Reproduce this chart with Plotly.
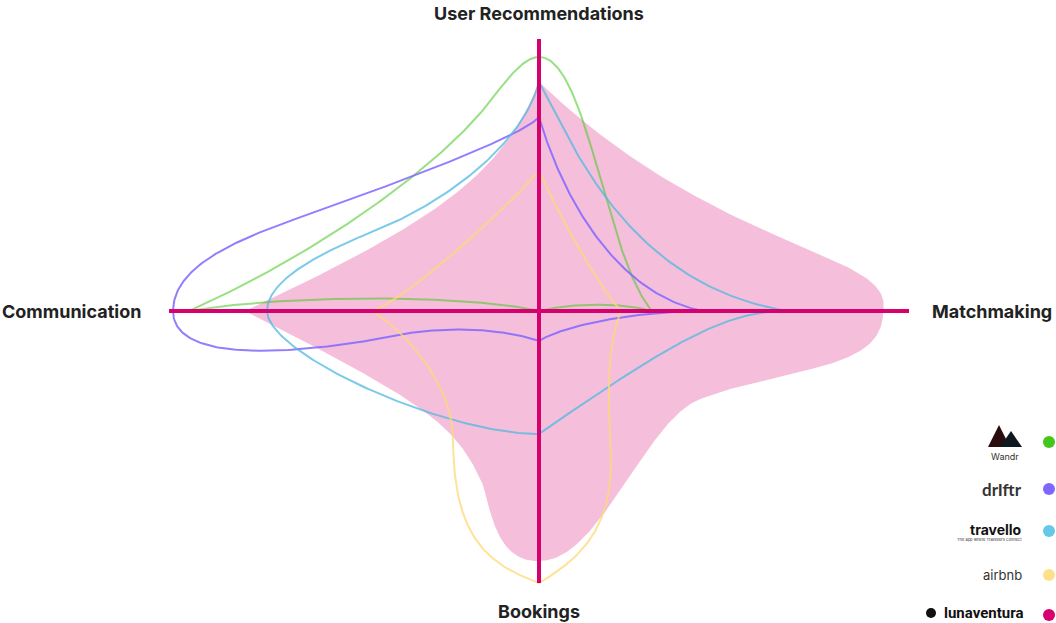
import numpy as np
import plotly.graph_objects as go

# ---------------- data ----------------
AXES = ["User Recommendations", "Matchmaking", "Bookings", "Communication"]
BRANDS = ["Wandr", "drIftr", "travello", "airbnb", "lunaventura"]
COLORS = ["#44c71c", "#7f66ff", "#64c8e8", "#ffe08a", "#d6006f"]

# scores on each axis (0-100): [User Recommendations, Matchmaking, Bookings, Communication]
wandr_scores = [93.4, 30.5, 0.0, 94.6]
driftr_scores = [71.3, 44.3, 11.0, 98.9]
travello_scores = [84.2, 67.0, 45.2, 73.5]
airbnb_scores = [51.5, 22.2, 100.0, 45.1]
luna_scores = [84.2, 93.0, 91.9, 79.5]

# curve handles between consecutive axes (score units):
# each item = [c1x, c1y, c2x, c2y] (+ [wx, wy] for an intermediate waypoint)
wandr_curve = [
    [[13.0, 93.4, 17.8, 20.6]],
    [[23.2, 2.9, 9.7, 3.3]],
    [[-18.6, 5.9, -67.3, 6.3]],
    [[-62.4, 19.5, -30.8, 48.9, -15.1, 73.9], [-10.8, 80.9, -5.1, 93.4]],
]
driftr_curve = [
    [[7.0, 39.0, 21.9, 5.9]],
    [[30.0, 0.0, 8.4, -4.0]],
    [[-10.3, -6.3, -24.1, -5.9, -34.9, -8.1], [-64.6, -16.2, -98.9, -19.9]],
    [[-98.9, 16.5, -81.6, 26.1, -66.5, 33.5], [-41.1, 45.6, -4.1, 64.3]],
]
travello_curve = [
    [[9.7, 59.2, 24.6, 9.6]],
    [[51.4, 0.0, 38.1, -9.2]],
    [[-25.7, -45.2, -73.5, -15.8]],
    [[-73.5, 13.2, -53.8, 24.3, -43.8, 29.8], [-24.1, 40.8, -4.1, 62.1]],
]
airbnb_curve = [
    [[4.3, 37.9, 16.5, 7.7]],
    [[18.1, -12.5, 18.6, -32.7, 19.5, -54.8], [19.5, -78.7, 12.4, -90.1]],
    [[-13.2, -93.4, -23.2, -84.2, -23.2, -47.4], [-23.2, -27.2, -35.9, -7.7]],
    [[-34.9, 4.8, -6.8, 40.4]],
]
luna_curve = [
    [[48.9, 20.6, 96.2, 22.4]],
    [[93.2, -22.4, 67.8, -19.9, 43.5, -32.4], [28.6, -40.1, 16.5, -92.3]],
    [[-9.2, -92.3, -12.4, -80.5, -14.6, -65.8], [-21.9, -41.9, -29.5, -34.6]],
    [[-25.7, 34.2, -9.7, 51.1]],
]

# ---------------- geometry helpers ----------------
PX_X, PX_Y = 3.7, 2.72          # pixels per score unit
CX, CY = 539, 311               # centre of chart in pixels
W, H = 1056, 623


def bez(p0, c1, c2, p3, n=90):
    t = np.linspace(0, 1, n)[:, None]
    return (1 - t) ** 3 * p0 + 3 * (1 - t) ** 2 * t * c1 + 3 * (1 - t) * t ** 2 * c2 + t ** 3 * p3


def build(scores, curve):
    anchors = [np.array([0.0, scores[0]]), np.array([scores[1], 0.0]),
               np.array([0.0, -scores[2]]), np.array([-scores[3], 0.0])]
    xs, ys = [], []
    for q in range(4):
        p = anchors[q]
        end = anchors[(q + 1) % 4]
        for seg in curve[q]:
            c1 = np.array(seg[0:2], float)
            c2 = np.array(seg[2:4], float)
            nxt = np.array(seg[4:6], float) if len(seg) == 6 else end
            pts = bez(p, c1, c2, nxt)
            xs.extend(pts[:, 0])
            ys.extend(pts[:, 1])
            p = nxt
    return xs, ys


def rgba(hexc, a):
    h = hexc.lstrip("#")
    r, g, b = int(h[0:2], 16), int(h[2:4], 16), int(h[4:6], 16)
    return f"rgba({r},{g},{b},{a})"


fig = go.Figure()

# lunaventura filled area
lx, ly = build(luna_scores, luna_curve)
fig.add_trace(go.Scatter(x=lx, y=ly, mode="lines", fill="toself",
                         fillcolor=rgba(COLORS[4], 0.25), line=dict(width=0),
                         hoverinfo="skip", name=BRANDS[4]))

series = [
    (BRANDS[0], wandr_scores, wandr_curve, rgba(COLORS[0], 0.55)),
    (BRANDS[1], driftr_scores, driftr_curve, rgba(COLORS[1], 0.85)),
    (BRANDS[2], travello_scores, travello_curve, rgba("#4fb8e0", 0.75)),
    (BRANDS[3], airbnb_scores, airbnb_curve, rgba("#ffd874", 0.75)),
]
for name, sc, cv, col in series:
    x, y = build(sc, cv)
    fig.add_trace(go.Scatter(x=x, y=y, mode="lines", line=dict(color=col, width=2),
                             hoverinfo="skip", name=name))

# axes (drawn on top)
AXIS_LEN = 100
shapes = [
    dict(type="line", xref="x", yref="y", x0=-AXIS_LEN, x1=AXIS_LEN, y0=0, y1=0,
         line=dict(color=COLORS[4], width=4), layer="above"),
    dict(type="line", xref="x", yref="y", x0=0, x1=0, y0=-AXIS_LEN, y1=AXIS_LEN,
         line=dict(color=COLORS[4], width=4), layer="above"),
]

LABEL_FONT = dict(family="Inter, Noto Sans, sans-serif", size=18, color="#222222")
annotations = [
    dict(x=0, y=109.3, text="<b>" + AXES[0] + "</b>", showarrow=False, font=LABEL_FONT,
         xanchor="center", yanchor="middle"),
    dict(x=139.3, y=0, text="<b>" + AXES[1] + "</b>", showarrow=False, font=LABEL_FONT,
         xanchor="right", yanchor="middle"),
    dict(x=0, y=-110.3, text="<b>" + AXES[2] + "</b>", showarrow=False, font=LABEL_FONT,
         xanchor="center", yanchor="middle"),
    dict(x=-145.6, y=0, text="<b>" + AXES[3] + "</b>", showarrow=False, font=LABEL_FONT,
         xanchor="left", yanchor="middle"),
]

# legend (logos rendered as text, dot on the right)
LEG_Y = [442, 489, 531, 575, 615]
LEG_DOT_X = 1049
LEG_TEXT_X = 1024
for i, (b, c) in enumerate(zip(BRANDS, COLORS)):
    yp = 1 - LEG_Y[i] / H
    shapes.append(dict(type="circle", xref="paper", yref="paper", xsizemode="pixel",
                       ysizemode="pixel", xanchor=LEG_DOT_X / W, yanchor=yp,
                       x0=-6, x1=6, y0=-6, y1=6, fillcolor=c, line=dict(width=0)))

# Wandr logo: two mountains + word
def pxd(x, y):
    return (x - CX) / PX_X, (CY - y) / PX_Y

def tri(pts, color):
    d = "M " + " L ".join(f"{pxd(*p)[0]:.3f},{pxd(*p)[1]:.3f}" for p in pts) + " Z"
    return dict(type="path", xref="x", yref="y", path=d, fillcolor=color, line=dict(width=0))

shapes.append(tri([(988, 447), (999, 425), (1010, 447)], "#2b0c0c"))
shapes.append(tri([(1000, 447), (1011, 431), (1022, 447)], "#0e1820"))
annotations.append(dict(x=1005 / W, y=1 - 456 / H, xref="paper", yref="paper", text="Wandr",
                        showarrow=False, xanchor="center", yanchor="middle",
                        font=dict(family="Inter, sans-serif", size=9, color="#333")))
annotations.append(dict(x=LEG_TEXT_X / W, y=1 - LEG_Y[1] / H, xref="paper", yref="paper",
                        text="<b>drIftr</b>", showarrow=False, xanchor="right", yanchor="middle",
                        font=dict(family="Lato, sans-serif", size=17, color="#333")))
annotations.append(dict(x=LEG_TEXT_X / W, y=1 - 529 / H, xref="paper", yref="paper",
                        text="<b>travello</b>", showarrow=False, xanchor="right", yanchor="middle",
                        font=dict(family="Inter, sans-serif", size=14, color="#111")))
annotations.append(dict(x=LEG_TEXT_X / W, y=1 - 539 / H, xref="paper", yref="paper",
                        text="The app where Travellers connect", showarrow=False,
                        xanchor="right", yanchor="middle",
                        font=dict(family="Inter, sans-serif", size=4, color="#333")))
annotations.append(dict(x=LEG_TEXT_X / W, y=1 - LEG_Y[3] / H, xref="paper", yref="paper",
                        text="airbnb", showarrow=False, xanchor="right", yanchor="middle",
                        font=dict(family="Inter, sans-serif", size=13, color="#333")))
annotations.append(dict(x=LEG_TEXT_X / W, y=1 - 613 / H, xref="paper", yref="paper",
                        text="<b>lunaventura</b>", showarrow=False, xanchor="right",
                        yanchor="middle", borderpad=0,
                        font=dict(family="Roboto, sans-serif", size=15, color="#111")))
shapes.append(dict(type="circle", xref="paper", yref="paper", xsizemode="pixel",
                   ysizemode="pixel", xanchor=931 / W, yanchor=1 - 613 / H,
                   x0=-5, x1=5, y0=-5, y1=5, fillcolor="#111", line=dict(width=0)))

fig.update_layout(
    width=W, height=H, margin=dict(l=0, r=0, t=0, b=0, pad=0),
    paper_bgcolor="white", plot_bgcolor="white", showlegend=False,
    hovermode=False,
    xaxis=dict(visible=False, range=[-CX / PX_X, (W - CX) / PX_X], fixedrange=True),
    yaxis=dict(visible=False, range=[-(H - CY) / PX_Y, CY / PX_Y], fixedrange=True),
    shapes=shapes, annotations=annotations,
)

fig.write_html("out.html", config={"displayModeBar": False},
               post_script="document.body.style.margin='0';document.body.style.overflow='hidden';")
